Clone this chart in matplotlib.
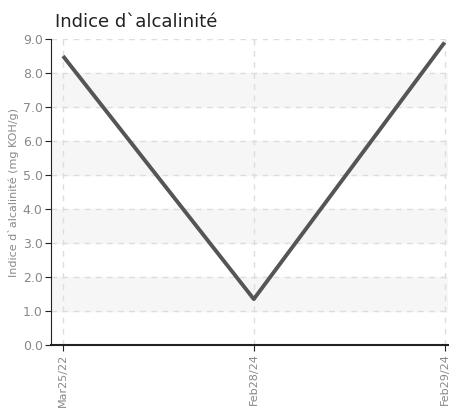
import matplotlib.pyplot as plt
import numpy as np

dates = ['Mar25/22', 'Feb28/24', 'Feb29/24']
values = [8.5, 1.35, 8.9]
yticks = [0, 1, 2, 3, 4, 5, 6, 7, 8, 9]

plt.rcParams['font.family'] = ['DejaVu Sans Condensed', 'DejaVu Sans']

fig = plt.figure(figsize=(4.49, 4.09), dpi=100)
ax = fig.add_axes([0.1136, 0.1565, 0.885, 0.748])

x = np.arange(len(dates))
ax.set_xlim(-0.063, 2.02)
ax.set_ylim(0, 9)

# alternating light bands
for lo in range(1, 9, 2):
    ax.axhspan(lo, lo + 1, color='#f6f6f6', zorder=0)

ax.plot(x, values, color='#555555', linewidth=2.8, zorder=3, solid_capstyle='butt')

ax.set_xticks(x)
ax.set_xticklabels(dates, rotation=90, color='#888888', fontsize=8)
ax.set_yticks(yticks)
ax.set_yticklabels(['%.1f' % v for v in yticks], color='#888888', fontsize=9)
ax.grid(True, linestyle=(0, (4, 4)), color='#dddddd', linewidth=1, zorder=1)
ax.set_axisbelow(True)

for s in ['top', 'right']:
    ax.spines[s].set_visible(False)
ax.spines['left'].set_color('#222222')
ax.spines['bottom'].set_color('#222222')
ax.spines['bottom'].set_linewidth(1.5)
ax.tick_params(axis='both', length=4, color='#222222', pad=2)

ax.set_ylabel('Indice d`alcalinité (mg KOH/g)', color='#888888', fontsize=8, labelpad=3)
fig.text(0.122, 0.935, 'Indice d`alcalinité', fontsize=13, color='#222222',
         family='DejaVu Sans')

fig.savefig('out.png', dpi=100)
